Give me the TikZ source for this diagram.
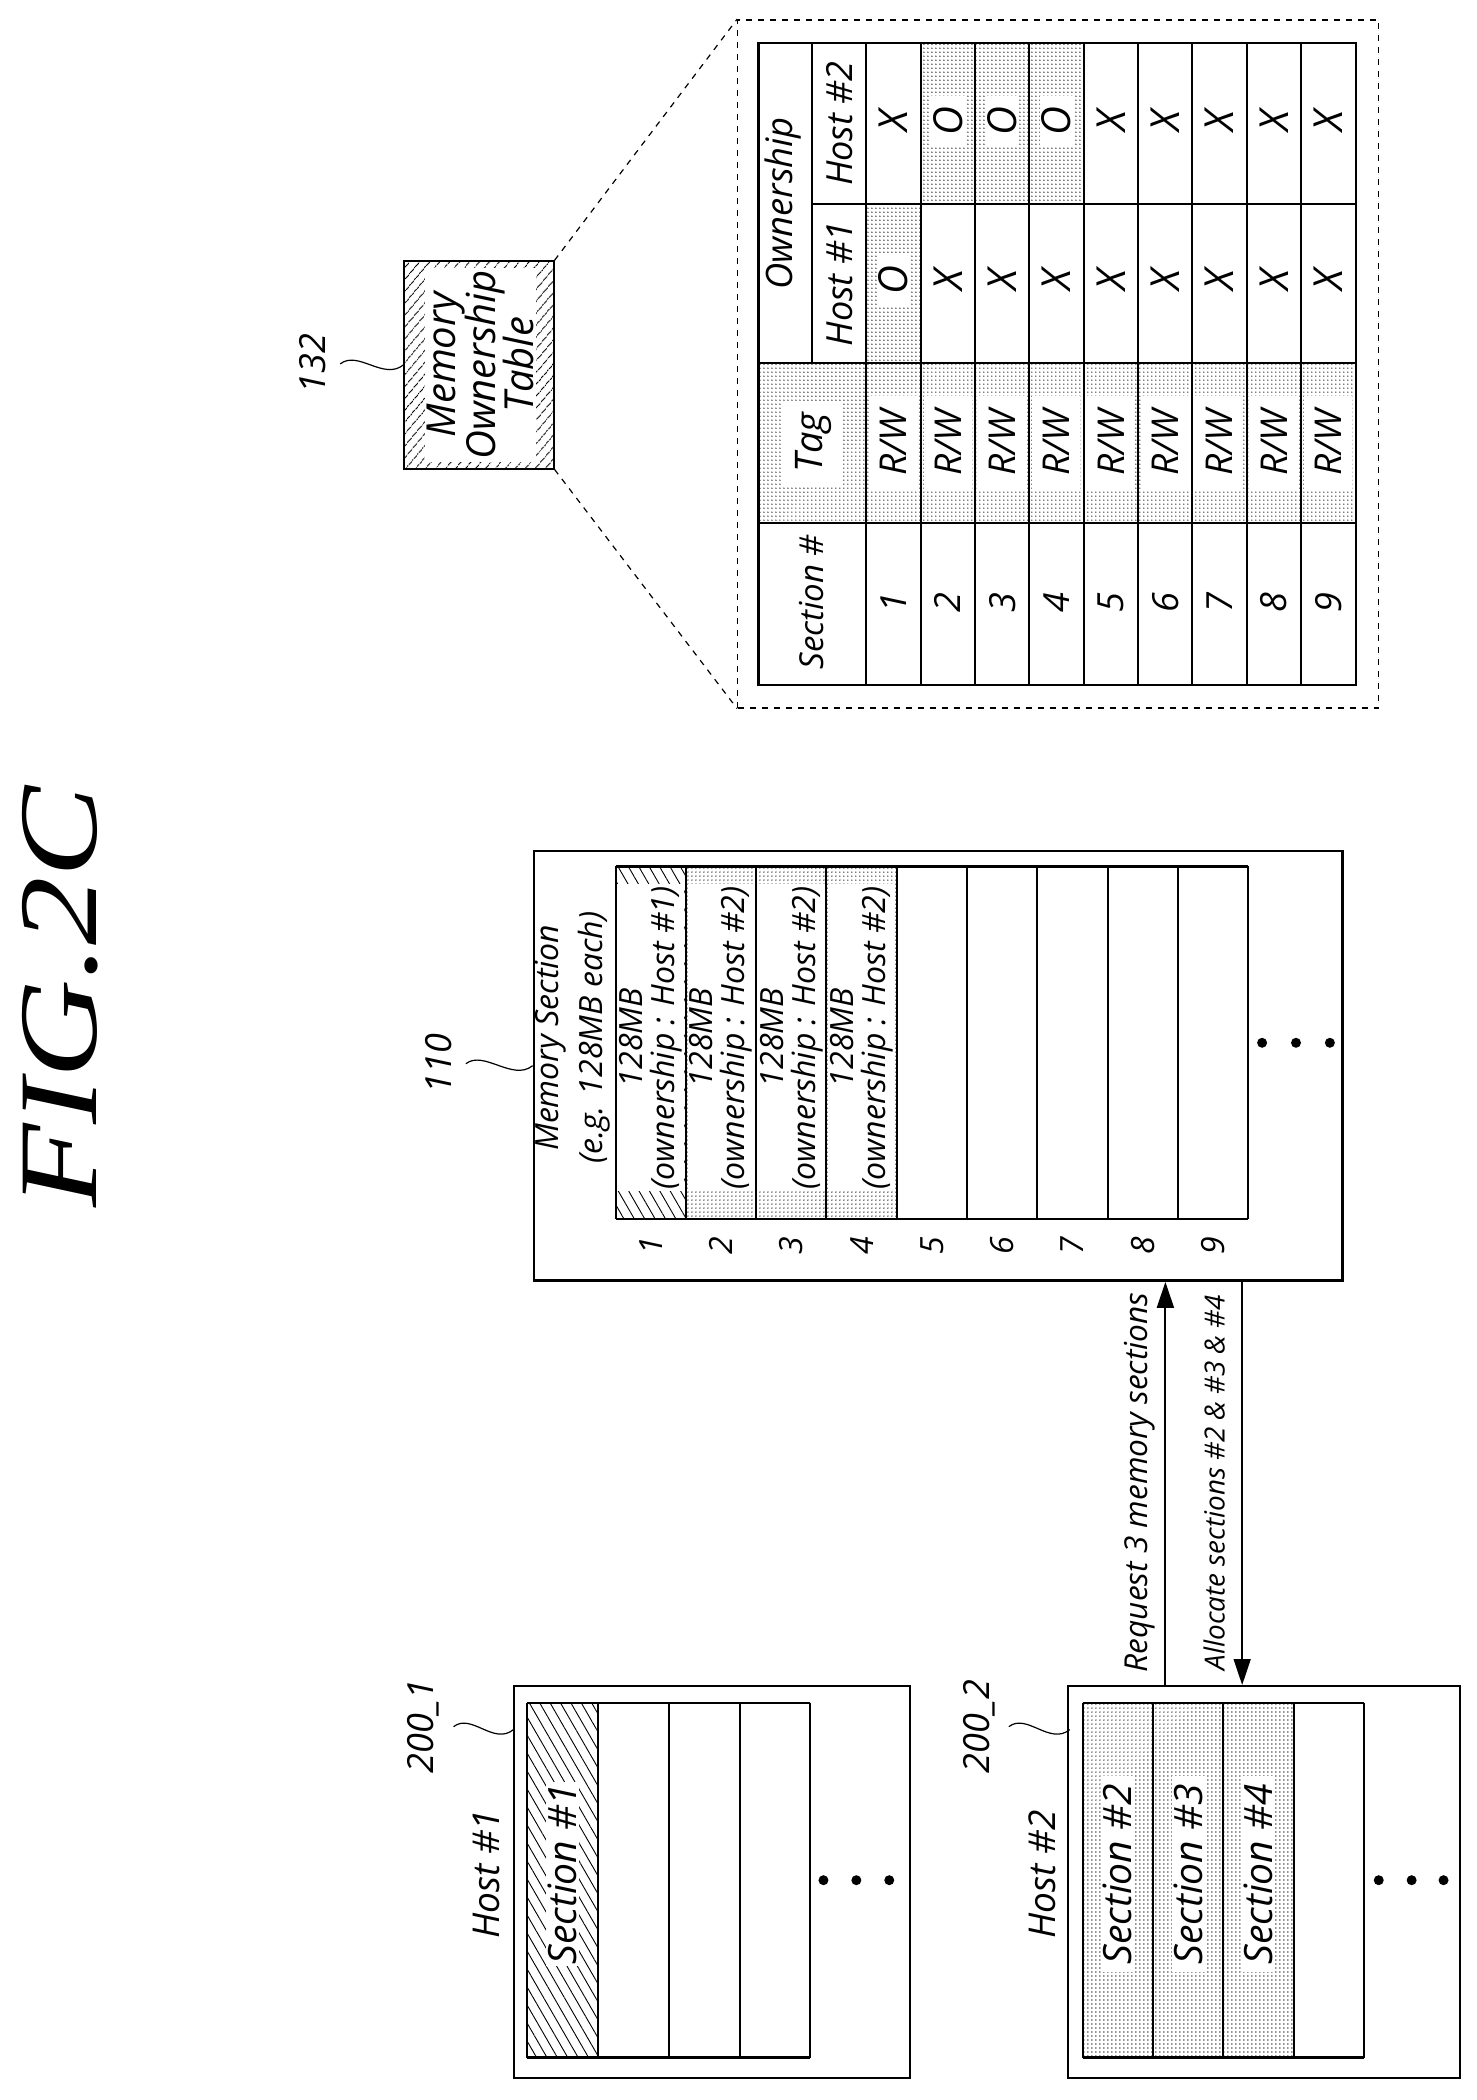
\documentclass[tikz,border=0pt]{standalone}
\usepackage{fontspec}
\setmainfont{Open Sans}
\newfontfamily\figfont{Liberation Serif}
\usetikzlibrary{patterns.meta}
\usetikzlibrary{arrows.meta}

\tikzset{
  txt/.style={rotate=90, inner sep=1pt, font=\itshape\fontsize{#1}{#1}\selectfont},
  txt/.default=16.5,
  blank/.style={txt=#1, fill=white},
  blank/.default=16.5,
  refnum/.style={txt=18, outer sep=6pt},
  outerbox/.style={draw, line width=1.2pt, inner sep=0pt},
  rowline/.style={line width=1pt},
  dotshade/.style={pattern={Dots[radius=0.34pt, distance=2pt]}},
  hatchshade/.style={pattern={Lines[angle=-60, distance=4.5pt, line width=0.45pt]}},
  dotmark/.style={circle, fill, inner sep=0pt, minimum size=5pt},
  squiggle/.style={line width=0.6pt},
}

\begin{document}
\begin{tikzpicture}[x=0.4985pt, y=-0.4985pt, >={Triangle[length=13pt, width=8.5pt]}]
  \useasboundingbox (0,0) rectangle (1481.5,2106.5);

  % Title
  \node[rotate=90, inner sep=0pt] (title) at (60,1000) {\figfont\itshape\fontsize{56}{56}\selectfont\scalebox{1.22}[1]{FIG.2C}};

  % Ownership table box and its zoom
  \node[outerbox, pattern={Lines[angle=50, distance=4pt, line width=0.55pt]}, minimum width=75pt, minimum height=104pt] (mot) at (480.5,366) {};
  \node[txt=20, fill=white, align=center] (mottext) at (482,366) {Memory\\[-1pt]Ownership\\[-1pt]Table};
  \node[refnum] (t132) at (314,365) {132};
  \draw[squiggle] (t132.south) .. controls +(18,-14) and +(-20,16) .. (mot.west);

  \node[draw, dashed, line width=0.7pt, inner sep=0pt, minimum width=320.5pt, minimum height=344pt] (zoomb) at (1061.5,365) {};
  \draw[dashed, line width=0.6pt] (mot.north east) -- (zoomb.north west);
  \draw[dashed, line width=0.6pt] (mot.south east) -- (zoomb.south west);

  % Table shading
  \fill[dotshade] (761,364) rectangle (1360,525);
  \fill[dotshade] (869,205) rectangle (923.5,364);
  \fill[dotshade] (923.5,43) rectangle (1087,205);

  % Table rows
  \foreach \i/\a/\b in {1/O/X,2/X/O,3/X/O,4/X/O,5/X/X,6/X/X,7/X/X,8/X/X,9/X/X} {
    \node[txt=18] (sec\i) at ({869+54.5*(\i-0.5)},604) {\i};
    \node[blank=18.5, minimum height=24pt, minimum width=47pt] (tag\i) at ({869+54.5*(\i-0.5)},444) {R/W};
    \node[blank=20, minimum width=25pt] (hosta\i) at ({869+54.5*(\i-0.5)},281) {\a};
    \node[blank=20, minimum width=25pt] (hostb\i) at ({869+54.5*(\i-0.5)},121) {\b};
  }
  \foreach \i in {1,...,9} {
    \draw[rowline] ({869+54.5*(\i-1)},43) -- ({869+54.5*(\i-1)},687);
  }

  % Table frame and headers
  \draw[line width=1.2pt] (761,43) rectangle (1360,687);
  \draw[rowline] (761,525) -- (1360,525);
  \draw[rowline] (761,364) -- (1360,364);
  \draw[rowline] (815,205) -- (1360,205);
  \draw[rowline] (815,43) -- (815,364);
  \node[txt] (hsec) at (814,604) {Section \#};
  \node[blank=19, minimum width=42pt, minimum height=30pt] (htag) at (816,444) {Tag};
  \node[txt=18.2] (hown) at (785,204) {Ownership};
  \node[txt=18] (hhosta) at (842,285) {Host \#1};
  \node[txt=18] (hhostb) at (842,124) {Host \#2};

  % Memory sections
  \node[outerbox, minimum width=404.3pt, minimum height=215pt] (mem) at (941,1069) {};
  \node[refnum] (t110) at (440,1067) {110};
  \draw[squiggle] (t110.south) .. controls +(18,-14) and +(-20,16) .. (mem.west);
  \node[txt=16, align=center] (memhead) at (574,1041) {Memory Section\\[5pt](e.g. 128MB each)};

  \fill[hatchshade] (617.5,869) rectangle (688,1223);
  \fill[dotshade] (688,869) rectangle (900,1223);
  \foreach \i/\h in {1/1,2/2,3/2,4/2} {
    \node[blank=16, align=center] (own\i) at ({617.5+70.5*(\i-0.5)},1041) {128MB\\(ownership : Host \#\h)};
  }
  \foreach \i in {1,...,9} {
    \draw[rowline] ({617.5+70.5*(\i-1)},869) -- ({617.5+70.5*(\i-1)},1223);
    \node[txt=16] (num\i) at ({617.5+70.5*(\i-0.5)},1250) {\i};
  }
  \draw[rowline] (1252,869) -- (1252,1223);
  \draw[line width=1.2pt] (617.5,869) -- (1252,869);
  \draw[line width=1.2pt] (617.5,1223) -- (1252,1223);
  \foreach \i/\x in {1/1266,2/1300,3/1334} {
    \node[dotmark] (memdot\i) at (\x,1046) {};
  }

  % Host 1
  \node[outerbox, minimum width=198pt, minimum height=196pt] (hosta) at (714,1888) {};
  \node[txt=18.5] (labela) at (488,1880) {Host \#1};
  \node[txt=18.5] (labelb) at (1045,1880) {Host \#2};
  \node[refnum] (t200a) at (425,1732) {200\_1};
  \coordinate (tipa) at (515,1735);
  \draw[squiggle] (t200a.south) .. controls +(18,-14) and +(-20,16) .. (tipa);
  \fill[hatchshade] (529,1708) rectangle (600,2064);
  \node[blank=19.5] (seca) at (564.5,1880) {Section \#1};
  \foreach \i in {0,...,4} {
    \draw[rowline] ({529+71*\i},1708) -- ({529+71*\i},2064);
  }
  \draw[line width=1.2pt] (529,1708) -- (813,1708);
  \draw[line width=1.2pt] (529,2064) -- (813,2064);
  \foreach \i/\x in {1/826,2/859,3/892} {
    \node[dotmark] (hostadot\i) at (\x,1886) {};
  }

  % Host 2
  \node[outerbox, minimum width=196pt, minimum height=196pt] (hostb) at (1268,1888) {};
  \node[refnum] (t200b) at (982,1732) {200\_2};
  \coordinate (tipb) at (1073,1735);
  \draw[squiggle] (t200b.south) .. controls +(18,-14) and +(-20,16) .. (tipb);
  \fill[dotshade] (1086,1708) rectangle (1297,2064);
  \foreach \i/\n in {0/2,1/3,2/4} {
    \node[blank=19.5, minimum width=98pt] (secb\n) at ({1086+70.5*(\i+0.5)},1880) {Section \#\n};
  }
  \foreach \i in {0,...,4} {
    \draw[rowline] ({1086+70.5*\i},1708) -- ({1086+70.5*\i},2064);
  }
  \draw[line width=1.2pt] (1086,1708) -- (1368,1708);
  \draw[line width=1.2pt] (1086,2064) -- (1368,2064);
  \foreach \i/\x in {1/1383,2/1416,3/1448} {
    \node[dotmark] (hostbdot\i) at (\x,1886) {};
  }

  % Requests between host 2 and memory
  \coordinate (reqx) at (1169,1500);
  \coordinate (allocx) at (1246,1500);
  \draw[->, line width=1pt] (hostb.north -| reqx) -- (mem.south -| reqx);
  \draw[->, line width=0.8pt] (mem.south -| allocx) -- (hostb.north -| allocx);
  \node[txt=15.8] (reqtext) at (1143,1487) {Request 3 memory sections};
  \node[txt=13.9] (alloctext) at (1218,1487) {Allocate sections \#2 \& \#3 \& \#4};
\end{tikzpicture}
\end{document}
